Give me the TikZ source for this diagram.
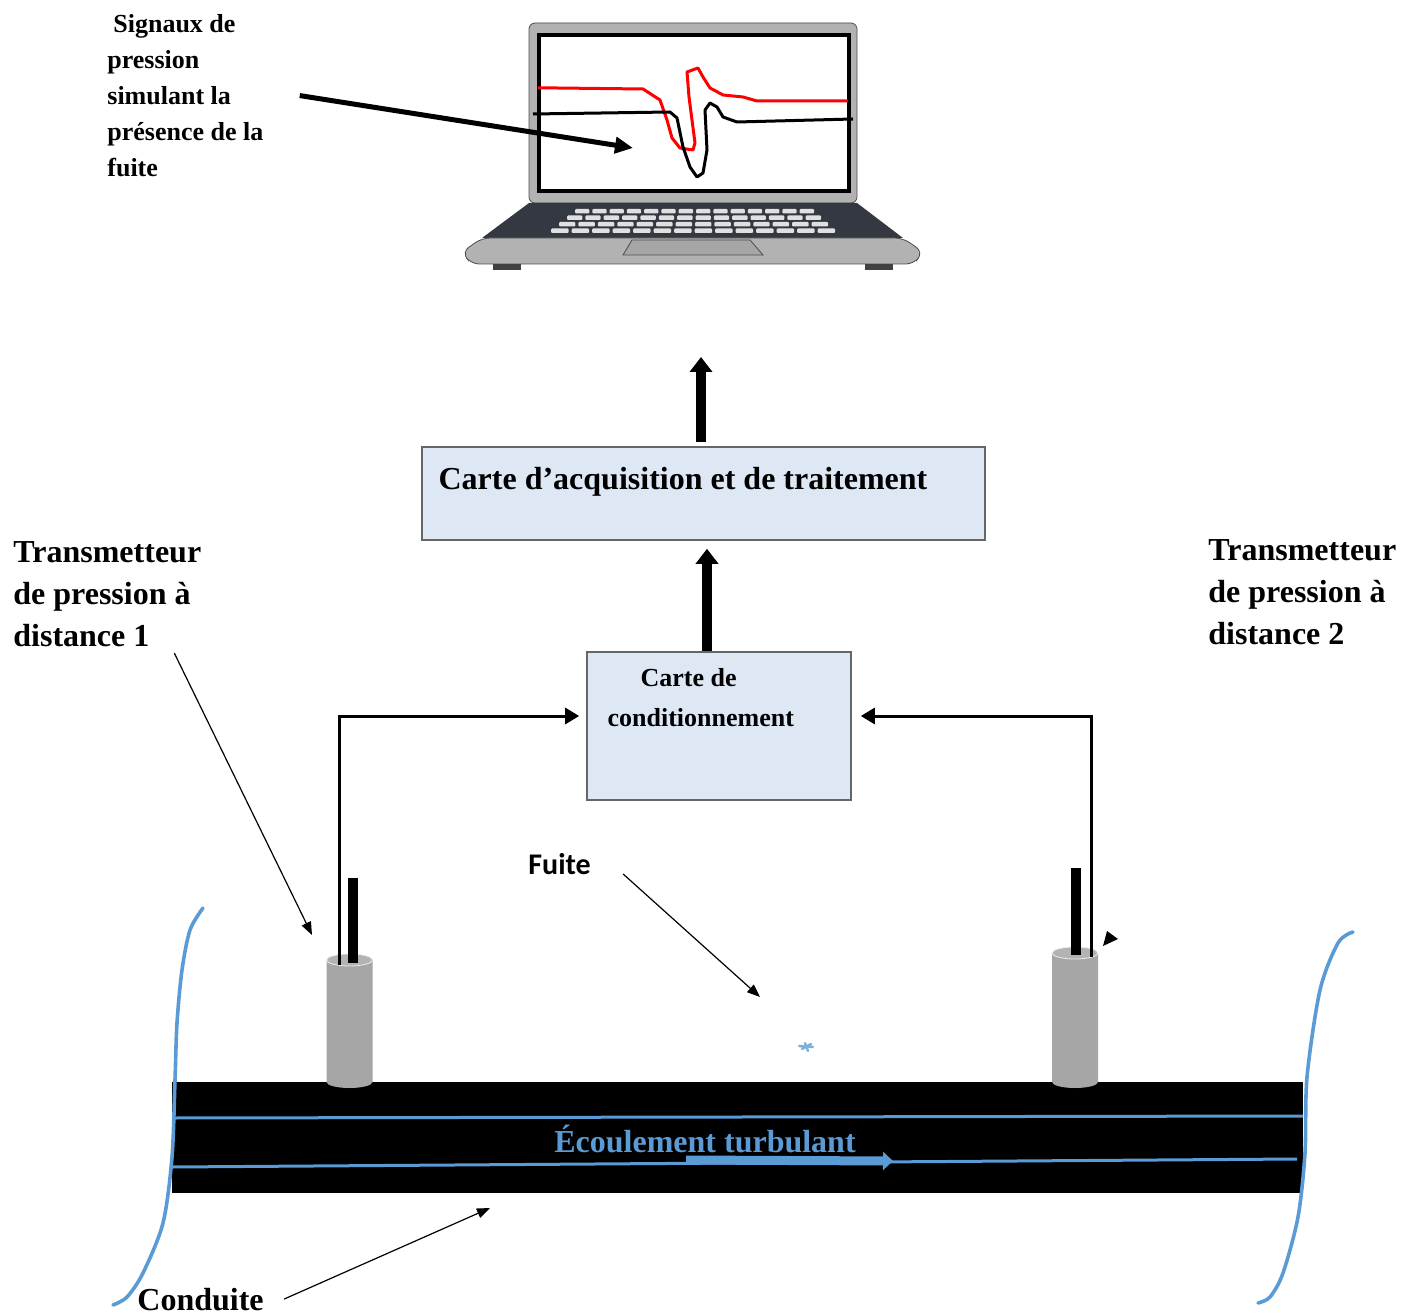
\documentclass[tikz,border=0pt]{standalone}
\usepackage{fontspec}
\setmainfont{Liberation Serif}
\newfontfamily\carlito{Carlito}
\usetikzlibrary{positioning,arrows.meta}

\definecolor{boxblue}{RGB}{222,232,245}
\definecolor{flowblue}{RGB}{91,155,213}
\definecolor{cylgray}{RGB}{166,166,166}
\definecolor{deckgray}{RGB}{52,56,64}
\definecolor{lidgray}{RGB}{178,178,178}

\begin{document}
\begin{tikzpicture}[x=0.5pt, y=-0.5pt,
  lbl/.style={font=\fontsize{16}{21}\selectfont\bfseries, align=left, inner sep=0pt},
  small/.style={font=\fontsize{13}{18}\selectfont\bfseries, align=left, inner sep=0pt},
  card/.style={draw=black!60, line width=0.8pt, fill=boxblue, inner sep=0pt},
  link/.style={line width=1.5pt, -{Triangle[width=8pt,length=7pt]}},
  bigarrow/.style={line width=5pt, -{Triangle[width=11pt,length=7.5pt]}},
  ptr/.style={line width=0.6pt, -{Triangle[width=5pt,length=6.5pt]}},
  flow/.style={flowblue, line width=1.5pt},
  wave/.style={flowblue, line width=1.8pt, line cap=round}
]
\useasboundingbox (0,0) rectangle (1418,1315);

% laptop
\draw[black!70, fill=lidgray, rounded corners=3pt] (529,23) rectangle (857,203);
\draw[line width=2pt, fill=white] (539,35) rectangle (849,191);
\fill[deckgray] (529,203) -- (857,203) -- (903,238) -- (482,238) -- cycle;
\draw[black!70, fill=lidgray, rounded corners=4pt] (482,238) -- (903,238) -- (923,252) -- (914,264) -- (471,264) -- (462,252) -- cycle;
\fill[black!75] (493,264) rectangle (521,270);
\fill[black!75] (865,264) rectangle (893,270);
\foreach \r in {0,...,3}{
  \pgfmathsetmacro\kl{575-8*\r}
  \pgfmathsetmacro\kr{817+7*\r}
  \pgfmathsetmacro\kw{(\kr-\kl)/14}
  \foreach \k in {0,...,13}
    \fill[black!12, rounded corners=0.5pt] ({\kl+\k*\kw},{209+6.5*\r}) rectangle ++({\kw-3},4.5);
}
\draw[black!70, fill=black!35] (632,240) -- (750,240) -- (763,255) -- (623,255) -- cycle;

% pressure traces on the screen
\draw[red, line width=1.5pt, line join=round] (538,88) -- (557,88) -- (643,89) -- (660,100) -- (667,120) -- (672,138) -- (680,148) -- (693,150) -- (695,143) -- (689,97) -- (687,72) -- (698,68) -- (703,77) -- (710,88) -- (723,95) -- (743,97) -- (757,101) -- (848,101);
\draw[black, line width=1.5pt, line join=round] (533,114) -- (670,112) -- (677,118) -- (683,147) -- (690,167) -- (697,177) -- (703,173) -- (707,150) -- (705,110) -- (710,103) -- (717,107) -- (723,117) -- (737,122) -- (853,119);
\coordinate (scr) at (633,148);

\node[small, anchor=north west] (sig) at (107,14) {\hspace*{3pt}Signaux de\\pression\\simulant la\\présence de la\\fuite};
\draw[line width=2.5pt, -{Triangle[width=8pt,length=9pt]}] ([xshift=18pt]sig.east) -- (scr);

% cards
\node[card, minimum width=281.5pt, minimum height=46.5pt] (acq) at (703.5,493.5) {};
\node[lbl, anchor=north west] at ([xshift=8.5pt,yshift=-10.5pt]acq.north west) {Carte d’acquisition et de traitement};
\node[card, minimum width=132pt, minimum height=74pt] (cond) at (719,726) {};
\node[font=\fontsize{13}{20}\selectfont\bfseries, align=left, inner sep=0pt, anchor=north west] at ([xshift=10.5pt,yshift=-8.5pt]cond.north west) {\hspace*{16.5pt}Carte de\\conditionnement};

\coordinate (pc) at (701,357);
\draw[bigarrow] ([xshift=-6pt]cond.north) -- ([xshift=-6pt,yshift=-4pt]cond.north |- acq.south);
\draw[bigarrow] ([yshift=2pt]acq.north -| pc) -- (pc);

% pipe
\node[fill=black, inner sep=0pt, minimum width=565.5pt, minimum height=55.5pt] (pipe) at (737.5,1137.5) {};
\draw[flow] (172,1118) -- (1303,1116);
\draw[flow] (172,1167) -- (1297,1159);
\draw[flowblue, line width=4.5pt, -{Triangle[width=9pt,length=5pt]}] (686,1160) -- (893,1161);
\node[lbl, text=flowblue, anchor=base] (flowlbl) at (705,1152) {Écoulement turbulant};

% transmitters
\foreach \cx/\cy in {349.5/960,1075/953}{
  \fill[cylgray] ({\cx-23},\cy) -- ({\cx-23},1082) arc[start angle=180, end angle=0, x radius=23, y radius=6] -- ({\cx+23},\cy) -- cycle;
  \draw[black!8, fill=cylgray!85!white] (\cx,\cy) ellipse[x radius=23, y radius=6];
}
\fill (348,878) rectangle (358,963);
\fill (1071,868) rectangle (1081,955);
\coordinate (t1) at (339,965);
\coordinate (t2) at (1091,957);
\draw[link, shorten >=3.5pt] (t1) |- ([yshift=5pt]cond.west);
\draw[link, shorten >=4.5pt] (t2) |- ([yshift=5pt]cond.east);

\node[lbl, anchor=north west] (tr1) at (13,541) {Transmetteur\\de pression à\\distance 1};
\node[lbl, anchor=north west] (tr2) at (1208,539) {Transmetteur\\de pression à\\distance 2};
\coordinate (p1) at (312,935);
\draw[ptr] ([xshift=33.5pt,yshift=-3pt]tr1.south) -- (p1);
\fill (1103,946) -- (1107,931) -- (1118,939) -- cycle;

% leak
\node[font=\carlito\fontsize{15}{18}\selectfont\bfseries, anchor=north west, inner sep=0pt] (fuite) at (528,853) {Fuite};
\coordinate (leak) at (760,997);
\draw[ptr] ([xshift=16pt,yshift=-5pt]fuite.east) -- (leak);
\draw[flowblue!80, line width=1.2pt, line cap=round] (799,1046) -- (813,1047) (805,1043) -- (808,1051) (802,1049) -- (811,1044);

% pipe ends
\draw[wave] plot[smooth] coordinates {(203,908) (190,930) (182,970) (177,1023) (175,1080) (172,1157) (163,1223) (143,1273) (127,1297) (113,1305)};
\draw[wave] plot[smooth] coordinates {(1353,932) (1338,943) (1320,990) (1307,1077) (1305,1153) (1298,1217) (1283,1273) (1270,1297) (1258,1303)};

\node[lbl, anchor=base west] (pipelbl) at (137,1310) {Conduite};
\coordinate (pp) at (490,1208);
\draw[ptr] ([xshift=10pt]pipelbl.east) -- (pp);
\end{tikzpicture}
\end{document}
